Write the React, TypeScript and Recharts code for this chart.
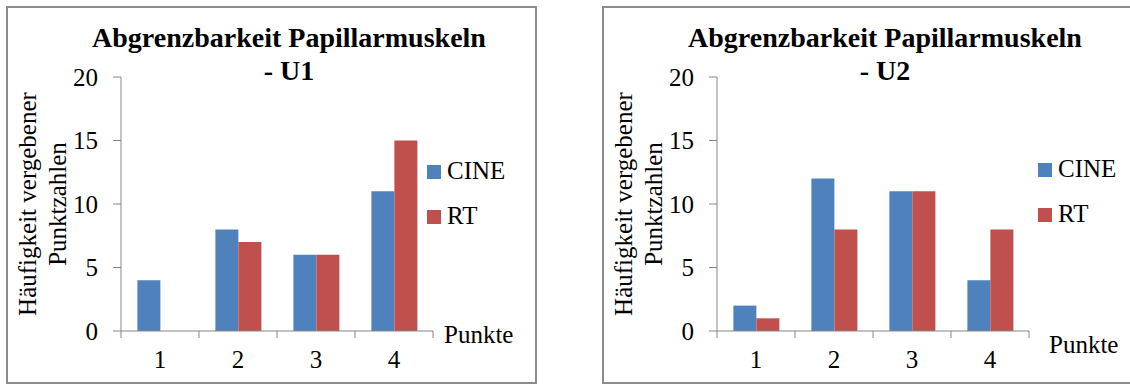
import { Bar, BarChart, Legend, XAxis, YAxis } from 'recharts'

const punkte = ['1', '2', '3', '4']
const cineU1 = [4, 8, 6, 11]
const rtU1 = [0, 7, 6, 15]
const cineU2 = [2, 12, 11, 4]
const rtU2 = [1, 8, 11, 8]
const yTicks = [0, 5, 10, 15, 20]
const titel = 'Abgrenzbarkeit Papillarmuskeln'
const serien = [
  { key: 'cine', name: 'CINE', color: '#4F81BD' },
  { key: 'rt', name: 'RT', color: '#C0504D' },
]

const AXIS = '#868686'
const FONT = "'Liberation Serif', Tinos, 'Times New Roman', Times, 'DejaVu Serif', serif"

function PunktTick(props: any) {
  const { x, y, payload, index, width } = props
  const half = (width ?? 312) / punkte.length / 2
  return (
    <g>
      <line x1={x - half} y1={y - 7} x2={x - half} y2={y} stroke={AXIS} />
      {index === punkte.length - 1 && <line x1={x + half} y1={y - 7} x2={x + half} y2={y} stroke={AXIS} />}
      <text x={x} y={y + 30} textAnchor="middle" fontSize={25} fontFamily={FONT} fill="#000">
        {payload.value}
      </text>
    </g>
  )
}

function Diagramm({
  teil,
  cine,
  rt,
  width,
  legendLeft,
  legendTop,
  punkteDx,
  punkteDy,
}: {
  teil: string
  cine: number[]
  rt: number[]
  width: number
  legendLeft: number
  legendTop: number
  punkteDx: number
  punkteDy: number
}) {
  const data = punkte.map((p, i) => ({ punkt: p, cine: cine[i], rt: rt[i] }))

  return (
    <div style={{ position: 'relative', width, height: 376, fontFamily: FONT }}>
      <div
        style={{
          position: 'absolute',
          left: 0,
          top: 14,
          width: 564,
          textAlign: 'center',
          fontSize: 28,
          fontWeight: 'bold',
          lineHeight: '33px',
          fontFamily: FONT,
        }}
      >
        {titel}
        <br />- {teil}
      </div>
      <BarChart
        width={width}
        height={376}
        data={data}
        margin={{ top: 70, right: width - 114 - 312, bottom: 22, left: 54 }}
        barCategoryGap="21%"
        barGap={0}
        style={{ fontFamily: FONT }}
      >
        <XAxis
          dataKey="punkt"
          height={30}
          stroke={AXIS}
          tickLine={false}
          tickSize={7}
          tickMargin={0}
          tick={<PunktTick />}
          label={{
            content: ({ viewBox }: any) => (
              <text
                x={viewBox.x + viewBox.width + punkteDx}
                y={viewBox.y + punkteDy}
                fontSize={25}
                fontFamily={FONT}
                fill="#000"
              >
                Punkte
              </text>
            ),
          }}
        />
        <YAxis
          width={60}
          domain={[0, 20]}
          ticks={yTicks}
          stroke={AXIS}
          tickSize={8}
          tickMargin={15}
          tick={{ fontSize: 25, fill: '#000', fontFamily: FONT }}
          label={{
            content: ({ viewBox }: any) => {
              const cy = viewBox.y + viewBox.height / 2
              return (
                <g fontSize={25} fill="#000" fontFamily={FONT}>
                  <text x={20} y={cy} transform={`rotate(-90 20 ${cy})`} textAnchor="middle" dominantBaseline="central">
                    Häufigkeit vergebener
                  </text>
                  <text x={50} y={cy} transform={`rotate(-90 50 ${cy})`} textAnchor="middle" dominantBaseline="central">
                    Punktzahlen
                  </text>
                </g>
              )
            },
          }}
        />
        <Legend
          layout="vertical"
          align="right"
          verticalAlign="middle"
          wrapperStyle={{ left: legendLeft, top: legendTop }}
          content={() => (
            <div style={{ position: 'relative', width: 0, height: 0 }}>
              {serien.map((s, i) => (
                <div
                  key={s.key}
                  style={{
                    position: 'absolute',
                    left: 0,
                    top: i * 45,
                    display: 'flex',
                    alignItems: 'center',
                    whiteSpace: 'nowrap',
                    fontSize: 25,
                    fontFamily: FONT,
                    lineHeight: '14px',
                    height: 14,
                  }}
                >
                  <span style={{ display: 'inline-block', width: 14, height: 14, background: s.color, marginRight: 6 }} />
                  <span style={{ position: 'relative', top: -1 }}>{s.name}</span>
                </div>
              ))}
            </div>
          )}
        />
        {serien.map((s) => (
          <Bar key={s.key} dataKey={s.key} name={s.name} fill={s.color} isAnimationActive={false} />
        ))}
      </BarChart>
    </div>
  )
}

export default function App() {
  return (
    <div
      style={{
        position: 'absolute',
        left: 0,
        top: 0,
        width: 1130,
        height: 385,
        overflow: 'hidden',
        background: '#fff',
        fontFamily: FONT,
        color: '#000',
      }}
    >
      <div style={{ position: 'absolute', left: 6, top: 6, width: 531, height: 378, border: '2px solid #8c8c8c', boxSizing: 'border-box' }} />
      <div style={{ position: 'absolute', left: 602, top: 6, width: 540, height: 378, border: '2px solid #8c8c8c', boxSizing: 'border-box' }} />
      <div style={{ position: 'absolute', left: 7, top: 7 }}>
        <Diagramm teil="U1" cine={cineU1} rt={rtU1} width={529} legendLeft={420} legendTop={158} punkteDx={11} punkteDy={12} />
      </div>
      <div style={{ position: 'absolute', left: 603, top: 7 }}>
        <Diagramm teil="U2" cine={cineU2} rt={rtU2} width={527} legendLeft={435} legendTop={156} punkteDx={20} punkteDy={22} />
      </div>
    </div>
  )
}
